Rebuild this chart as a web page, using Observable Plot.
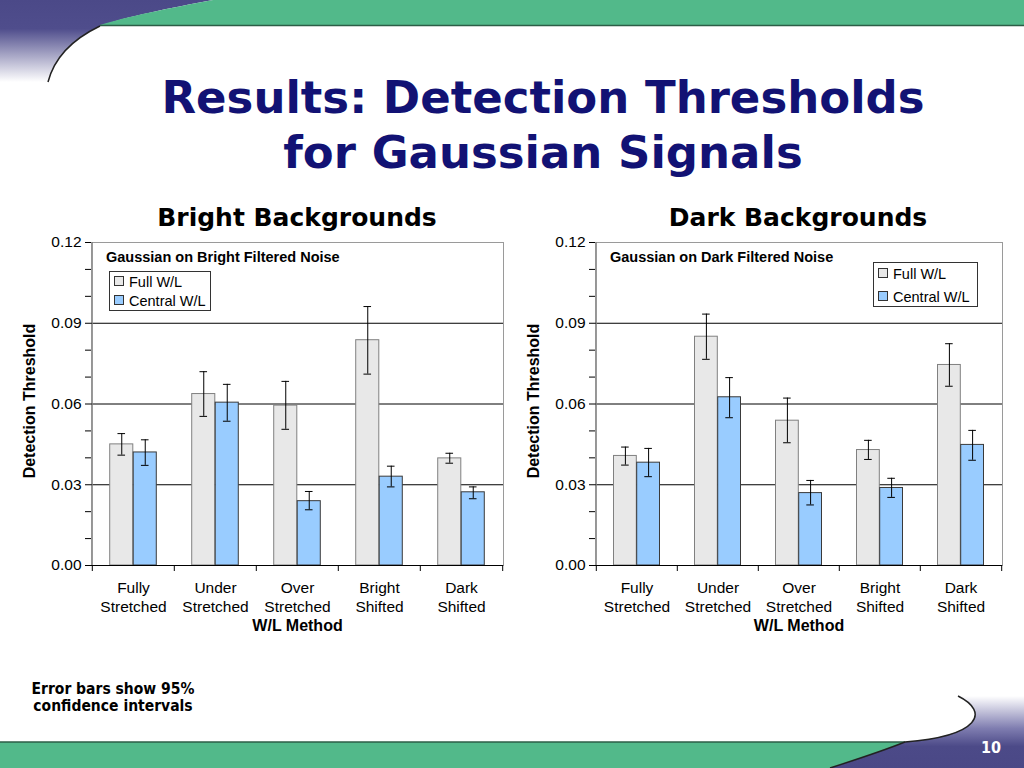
<!DOCTYPE html>
<html>
<head>
<meta charset="utf-8">
<script src="https://cdn.jsdelivr.net/npm/d3@7"></script>
<script src="https://cdn.jsdelivr.net/npm/@observablehq/plot@0.6"></script>
<style>
  html, body { margin: 0; padding: 0; background: #fff; }
  body { width: 1024px; height: 768px; position: relative; overflow: hidden; font-family: "Liberation Sans", Arial, sans-serif; }
  .abs { position: absolute; }
  #title { left: 0; width: 1086px; top: 70px; text-align: center; font-family: "DejaVu Sans", Verdana, sans-serif; font-weight: bold; font-size: 45px; line-height: 55px; color: #121274; }
  .sub { font-family: "DejaVu Sans", Verdana, sans-serif; font-weight: bold; font-size: 25px; line-height: 25px; color: #000; text-align: center; width: 400px; }
  .inner { font-weight: bold; font-size: 14.5px; line-height: 16px; white-space: nowrap; }
  .legend { border: 1px solid #333; background: #fff; box-sizing: border-box; font-size: 14.5px; }
  .item { position: absolute; left: 4px; white-space: nowrap; line-height: 16px; }
  .sw { display: inline-block; width: 8px; height: 8px; border: 1px solid #333; margin-right: 5px; vertical-align: 1px; }
  #note { left: 13px; width: 200px; top: 681px; text-align: center; font-family: "DejaVu Sans Condensed", "DejaVu Sans", sans-serif; font-weight: bold; font-size: 15.5px; line-height: 17px; color: #000; }
  #page { left: 976px; top: 738px; width: 30px; text-align: center; color: #fff; font-family: "DejaVu Sans Condensed", "DejaVu Sans", sans-serif; font-weight: bold; font-size: 16px; }
</style>
</head>
<body>
<svg class="abs" style="left:0;top:0" width="1024" height="768" id="deco">
  <defs>
    <linearGradient id="gTop" x1="0" y1="0" x2="0" y2="1">
      <stop offset="0" stop-color="#4b4988"/>
      <stop offset="0.35" stop-color="#4f4d8c"/>
      <stop offset="1" stop-color="#ffffff"/>
    </linearGradient>
    <linearGradient id="gBot" x1="0" y1="0" x2="0" y2="1">
      <stop offset="0" stop-color="#ffffff"/>
      <stop offset="0.45" stop-color="#7f7db0"/>
      <stop offset="0.7" stop-color="#4c4a88"/>
      <stop offset="1" stop-color="#4a4886"/>
    </linearGradient>
  </defs>
  <path d="M0,0 L213,0 C170,8 125,17 100,26 C75,38 55,55 48,82 L0,82 Z" fill="url(#gTop)"/>
  <path d="M213,0 L1024,0 L1024,25 L100,25 C125,17 170,8 213,0 Z" fill="#52b98a"/>
  <line x1="100" y1="25.5" x2="1024" y2="25.5" stroke="#2c5e46" stroke-width="1.5"/>
  <path d="M100,26 C75,38 55,55 48,82" fill="none" stroke="#222" stroke-width="1.5"/>
  <path d="M0,742 L905,742 C880,752 855,760 830,768 L0,768 Z" fill="#52b98a"/>
  <line x1="0" y1="742" x2="905" y2="742" stroke="#2c5e46" stroke-width="1.5"/>
  <path d="M958,696 C990,712 980,736 905,742 C880,752 855,760 830,768 L1024,768 L1024,696 Z" fill="url(#gBot)"/>
  <path d="M958,696 C990,712 980,736 905,742 C880,752 855,760 830,768" fill="none" stroke="#222" stroke-width="1.5"/>
</svg>

<div id="title" class="abs">Results: Detection Thresholds<br>for Gaussian Signals</div>
<div class="abs sub" style="left:97px;top:205px">Bright Backgrounds</div>
<div class="abs sub" style="left:598px;top:205px">Dark Backgrounds</div>

<div id="chartL" class="abs" style="left:0;top:232px"></div>
<div id="chartR" class="abs" style="left:504px;top:232px"></div>

<div class="abs inner" style="left:106px;top:249px">Gaussian on Bright Filtered Noise</div>
<div class="abs inner" style="left:610px;top:249px">Gaussian on Dark Filtered Noise</div>
<div id="legL" class="abs legend" style="left:109px;top:271px;width:102px;height:40px"></div>
<div id="legR" class="abs legend" style="left:873px;top:262px;width:105px;height:45px"></div>

<div id="note" class="abs">Error bars show 95%<br>confidence intervals</div>
<div id="page" class="abs">10</div>

<script>
// ---------- data ----------
const categories = ["Fully\nStretched", "Under\nStretched", "Over\nStretched", "Bright\nShifted", "Dark\nShifted"];
const series = ["Full W/L", "Central W/L"];
const seriesColors = ["#e8e8e8", "#99ccff"];
const seriesStrokes = ["#808080", "#3a3a3a"];

const brightFull      = [0.0450, 0.0637, 0.0594, 0.0837, 0.0398];
const brightFullLo    = [0.0410, 0.0554, 0.0506, 0.0711, 0.0380];
const brightFullHi    = [0.0490, 0.0720, 0.0684, 0.0962, 0.0417];
const brightCentral   = [0.0420, 0.0605, 0.0239, 0.0330, 0.0272];
const brightCentralLo = [0.0372, 0.0536, 0.0207, 0.0292, 0.0248];
const brightCentralHi = [0.0467, 0.0673, 0.0275, 0.0369, 0.0292];

const darkFull        = [0.0407, 0.0850, 0.0538, 0.0429, 0.0745];
const darkFullLo      = [0.0373, 0.0766, 0.0456, 0.0394, 0.0666];
const darkFullHi      = [0.0440, 0.0934, 0.0622, 0.0465, 0.0824];
const darkCentral     = [0.0382, 0.0625, 0.0269, 0.0288, 0.0448];
const darkCentralLo   = [0.0330, 0.0549, 0.0225, 0.0253, 0.0391];
const darkCentralHi   = [0.0435, 0.0698, 0.0316, 0.0324, 0.0502];

const yMajor = [0, 0.03, 0.06, 0.09, 0.12];
const yMinor = [0.01, 0.02, 0.04, 0.05, 0.07, 0.08, 0.10, 0.11];
const yGrid = [0.03, 0.06, 0.09];
const xTitle = "W/L Method";
const yTitle = "Detection Threshold";

function rowsFor(vals, lo, hi, s) {
  return categories.map((c, i) => ({cat: c, series: s, v: vals[i], lo: lo[i], hi: hi[i]}));
}

function makeChart(fullRows, centralRows, width, ml, mr) {
  const inner = width - ml - mr;
  const bw = inner / categories.length;
  const pair = bw * 0.57;
  const side = (bw - pair) / 2;
  const off = pair / 4;
  const capIn = (bw - 8) / 2;
  return Plot.plot({
    width, height: 413,
    marginTop: 10, marginBottom: 80, marginLeft: ml, marginRight: mr,
    style: {fontFamily: '"Liberation Sans", Arial, sans-serif', fontSize: "15.5px", color: "#000", background: "transparent", overflow: "visible"},
    x: {domain: categories, padding: 0, axis: null, label: null},
    y: {domain: [0, 0.12], axis: null, label: null},
    marks: [
      Plot.frame({stroke: "#9a9a9a"}),
      Plot.ruleY(yGrid, {stroke: "#000", strokeWidth: 1}),
      Plot.barY(fullRows, {x: "cat", y: "v", fill: seriesColors[0], stroke: seriesStrokes[0], strokeWidth: 1, insetLeft: side, insetRight: bw / 2}),
      Plot.barY(centralRows, {x: "cat", y: "v", fill: seriesColors[1], stroke: seriesStrokes[1], strokeWidth: 1, insetLeft: bw / 2, insetRight: side}),
      Plot.ruleX(fullRows, {x: "cat", y1: "lo", y2: "hi", dx: -off, stroke: "#000"}),
      Plot.ruleX(centralRows, {x: "cat", y1: "lo", y2: "hi", dx: off, stroke: "#000"}),
      Plot.tickY(fullRows, {x: "cat", y: "lo", dx: -off, insetLeft: capIn, insetRight: capIn, stroke: "#000"}),
      Plot.tickY(fullRows, {x: "cat", y: "hi", dx: -off, insetLeft: capIn, insetRight: capIn, stroke: "#000"}),
      Plot.tickY(centralRows, {x: "cat", y: "lo", dx: off, insetLeft: capIn, insetRight: capIn, stroke: "#000"}),
      Plot.tickY(centralRows, {x: "cat", y: "hi", dx: off, insetLeft: capIn, insetRight: capIn, stroke: "#000"}),
      Plot.ruleY([0], {stroke: "#000", strokeWidth: 1}),
      Plot.ruleX([categories[0]], {x: d => d, dx: -bw / 2, stroke: "#808080"}),
      Plot.axisY({ticks: yMinor, tickSize: 6, tickFormat: () => "", label: null, stroke: "#000"}),
      Plot.axisY({ticks: yMajor, tickSize: 6, tickPadding: 4, tickFormat: d3.format(".2f"), label: null, fontSize: 15.5, fill: "#000", stroke: "#000"}),
      Plot.axisX({tickSize: 0, tickPadding: 14, label: null, fontSize: 15.5, lineHeight: 1.23, fill: "#000"}),
      Plot.axisX({tickSize: 6, tickFormat: () => "", dx: -bw / 2, label: null, stroke: "#000"}),
      Plot.axisX({ticks: [categories[categories.length - 1]], tickSize: 6, tickFormat: () => "", dx: bw / 2, label: null, stroke: "#000"}),
      Plot.text([xTitle], {frameAnchor: "bottom", dy: 65, fontWeight: "bold", fontSize: 16, fill: "#000"}),
      Plot.text([yTitle], {frameAnchor: "left", textAnchor: "middle", rotate: -90, dx: -62, dy: -3, fontWeight: "bold", fontSize: 16, fill: "#000"})
    ]
  });
}

document.getElementById("chartL").append(
  makeChart(rowsFor(brightFull, brightFullLo, brightFullHi, series[0]),
            rowsFor(brightCentral, brightCentralLo, brightCentralHi, series[1]), 513, 91, 10));
document.getElementById("chartR").append(
  makeChart(rowsFor(darkFull, darkFullLo, darkFullHi, series[0]),
            rowsFor(darkCentral, darkCentralLo, darkCentralHi, series[1]), 508, 91, 10));

function buildLegend(id, tops) {
  const el = document.getElementById(id);
  series.forEach((s, i) => {
    const d = document.createElement("div");
    d.className = "item";
    d.style.top = tops[i] + "px";
    const sw = document.createElement("span");
    sw.className = "sw";
    sw.style.background = seriesColors[i];
    d.append(sw, document.createTextNode(s));
    el.append(d);
  });
}
buildLegend("legL", [2, 21]);
buildLegend("legR", [3, 26]);
</script>
</body>
</html>
